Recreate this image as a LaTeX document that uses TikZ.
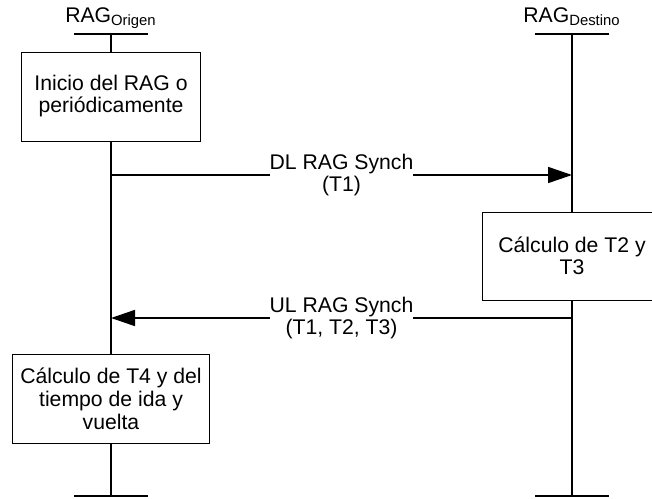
\documentclass[tikz,border=0pt]{standalone}
\usepackage{fontspec}
\setmainfont{Liberation Sans}
\usetikzlibrary{arrows.meta,positioning}

\begin{document}
\begin{tikzpicture}[x=0.5pt,y=-0.5pt,
    every node/.style={font=\fontsize{10.6}{11}\selectfont},
    box/.style={draw,line width=0.5pt,fill=white,align=center,minimum height=44.5pt,inner sep=2pt},
    life/.style={line width=0.8pt},
    msg/.style={line width=0.8pt,-{Triangle[length=12pt,width=8pt]}},
    lbl/.style={fill=white,inner sep=0pt,align=center}]
    \clip (0,0) rectangle (652,498);

    % Entities
    \node[anchor=base] (orig) at (111,22.5) {RAG\textsubscript{Origen}};
    \node[anchor=base] (dest) at (572,22.5) {RAG\textsubscript{Destino}};

    % Lifelines
    \coordinate (ot) at (111,34);  \coordinate (ob) at (111,496);
    \coordinate (dt) at (572,34);  \coordinate (db) at (572,496);
    \foreach \t/\b in {ot/ob,dt/db} {
        \draw[life] (\t) -- (\b);
        \draw[life] ([xshift=-18.5pt]\t) -- ([xshift=18.5pt]\t);
        \draw[life] ([xshift=-18.5pt]\b) -- ([xshift=18.5pt]\b);
    }

    % Processing boxes
    \node[box,minimum width=89.5pt] (inicio) at (111,96.5) {Inicio del RAG o\\periódicamente};
    \node[box,minimum width=90pt,minimum height=44pt] (calc23) at (572,256) {Cálculo de T2 y\\T3};
    \node[box,minimum width=98.5pt,font=\fontsize{10.6}{11.5}\selectfont] (calc4) at (111,398.5) {Cálculo de T4 y del\\tiempo de ida y\\vuelta};

    % Messages
    \coordinate (dl1) at (111,175);  \coordinate (dl2) at (572,175);
    \coordinate (ul1) at (572,318);  \coordinate (ul2) at (111,318);
    \draw[msg] (dl1) -- node[lbl] {DL RAG Synch\\(T1)} (dl2);
    \draw[msg] (ul1) -- node[lbl] {UL RAG Synch\\(T1, T2, T3)} (ul2);
\end{tikzpicture}
\end{document}
